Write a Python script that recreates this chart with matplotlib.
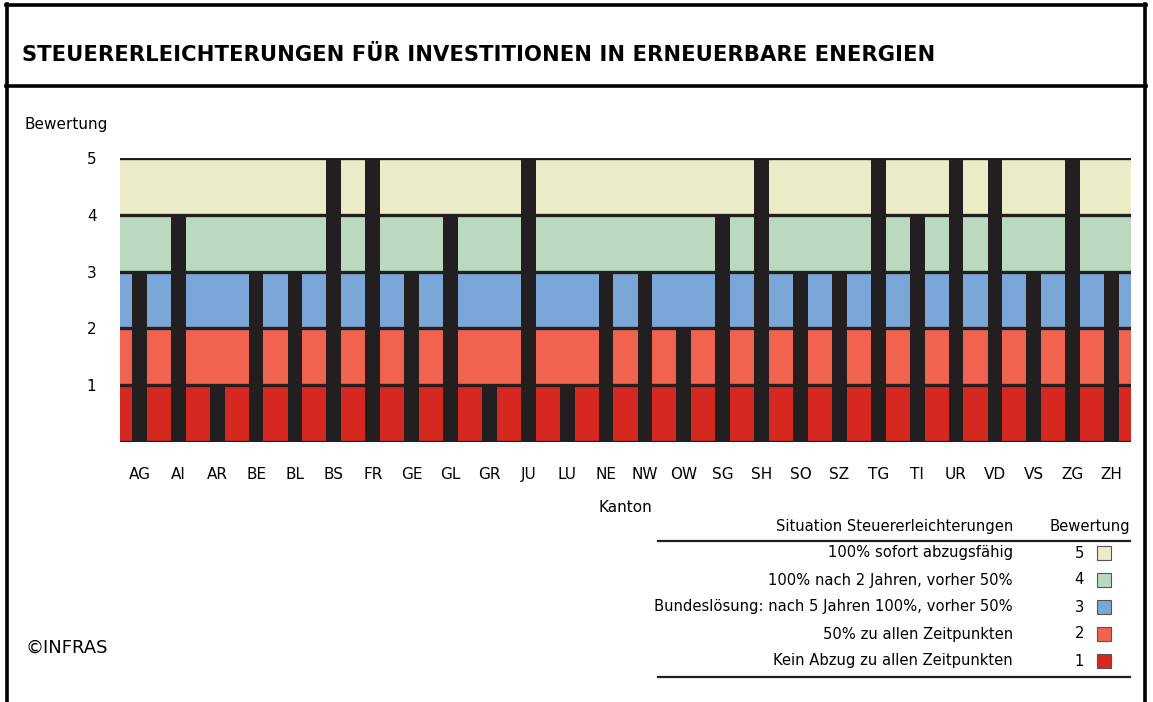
import numpy as np
import matplotlib
matplotlib.use("Agg")
import matplotlib.pyplot as plt
from matplotlib.lines import Line2D
from matplotlib.patches import Rectangle

plt.rcParams['font.family'] = ['Liberation Sans Narrow', 'DejaVu Sans']

kantone = ["AG", "AI", "AR", "BE", "BL", "BS", "FR", "GE", "GL", "GR", "JU", "LU", "NE",
           "NW", "OW", "SG", "SH", "SO", "SZ", "TG", "TI", "UR", "VD", "VS", "ZG", "ZH"]
bewertung = [3, 4, 1, 3, 3, 5, 5, 3, 4, 1, 5, 1, 3, 3, 2, 4, 5, 3, 3, 5, 4, 5, 5, 3, 5, 3]

stufen = [5, 4, 3, 2, 1]
stufen_text = ["100% sofort abzugsfähig",
               "100% nach 2 Jahren, vorher 50%",
               "Bundeslösung: nach 5 Jahren 100%, vorher 50%",
               "50% zu allen Zeitpunkten",
               "Kein Abzug zu allen Zeitpunkten"]
farben = ["#ECEBC8", "#BAD9BF", "#7BA6D8", "#EF634F", "#D52821"]

title = "STEUERERLEICHTERUNGEN FÜR INVESTITIONEN IN ERNEUERBARE ENERGIEN"

W, H = 1153, 702
dark = "#231F20"


def px(x):
    return x / W


def py(y):
    return 1 - y / H


fig = plt.figure(figsize=(W / 100, H / 100), dpi=100)

# frame
for xs, ys in [((7, 7), (4, 702)), ((1145, 1145), (4, 702)),
               ((6, 1146), (5, 5)), ((6, 1146), (86, 86))]:
    fig.add_artist(Line2D([px(xs[0]), px(xs[1])], [py(ys[0]), py(ys[1])],
                          color="black", lw=2.6, transform=fig.transFigure))

fig.text(px(22), py(55), title, fontsize=15.2, fontweight="bold", va="center", ha="left")
fig.text(px(25), py(125), "Bewertung", fontsize=11, va="center", ha="left")
fig.text(px(25), py(648), "©INFRAS", fontsize=13, va="center", ha="left")

ax = fig.add_axes([px(120), py(442), px(1131) - px(120), py(158) - py(442)])
x = np.arange(len(kantone))

# colour bands
for s, c in zip(stufen, farben):
    ax.axhspan(s - 1, s, color=c, lw=0, zorder=0)
for s in range(0, 6):
    ax.axhline(s, color=dark, lw=2.4, zorder=1)

ax.bar(x, bewertung, width=0.38, color=dark, zorder=2)

ax.set_xlim(-0.5, len(kantone) - 0.5)
ax.set_ylim(0, 5)
ax.set_xticks(x)
ax.set_xticklabels(kantone, fontsize=11)
ax.set_yticks([1, 2, 3, 4, 5])
ax.tick_params(length=0, pad=17, labelsize=11)
ax.tick_params(axis="x", pad=18)
for sp in ax.spines.values():
    sp.set_visible(False)

fig.text(px(625), py(508), "Kanton", fontsize=11, ha="center", va="center")

# legend table
fs = 10.6
fig.text(px(1013), py(526), "Situation Steuererleichterungen", fontsize=fs, ha="right", va="center")
fig.text(px(1130), py(526), "Bewertung", fontsize=fs, ha="right", va="center")
for yy in (541, 677):
    fig.add_artist(Line2D([px(658), px(1130)], [py(yy), py(yy)], color=dark, lw=1.6,
                          transform=fig.transFigure))
for i, (s, t, c) in enumerate(zip(stufen, stufen_text, farben)):
    yy = 553 + i * 27
    fig.text(px(1013), py(yy), t, fontsize=fs, ha="right", va="center")
    fig.text(px(1084), py(yy), str(s), fontsize=fs, ha="right", va="center")
    fig.add_artist(Rectangle((px(1097), py(yy + 7)), px(14), 14 / H, facecolor=c,
                             edgecolor="#555555", lw=0.8, transform=fig.transFigure))

fig.savefig("out.png", dpi=100)
